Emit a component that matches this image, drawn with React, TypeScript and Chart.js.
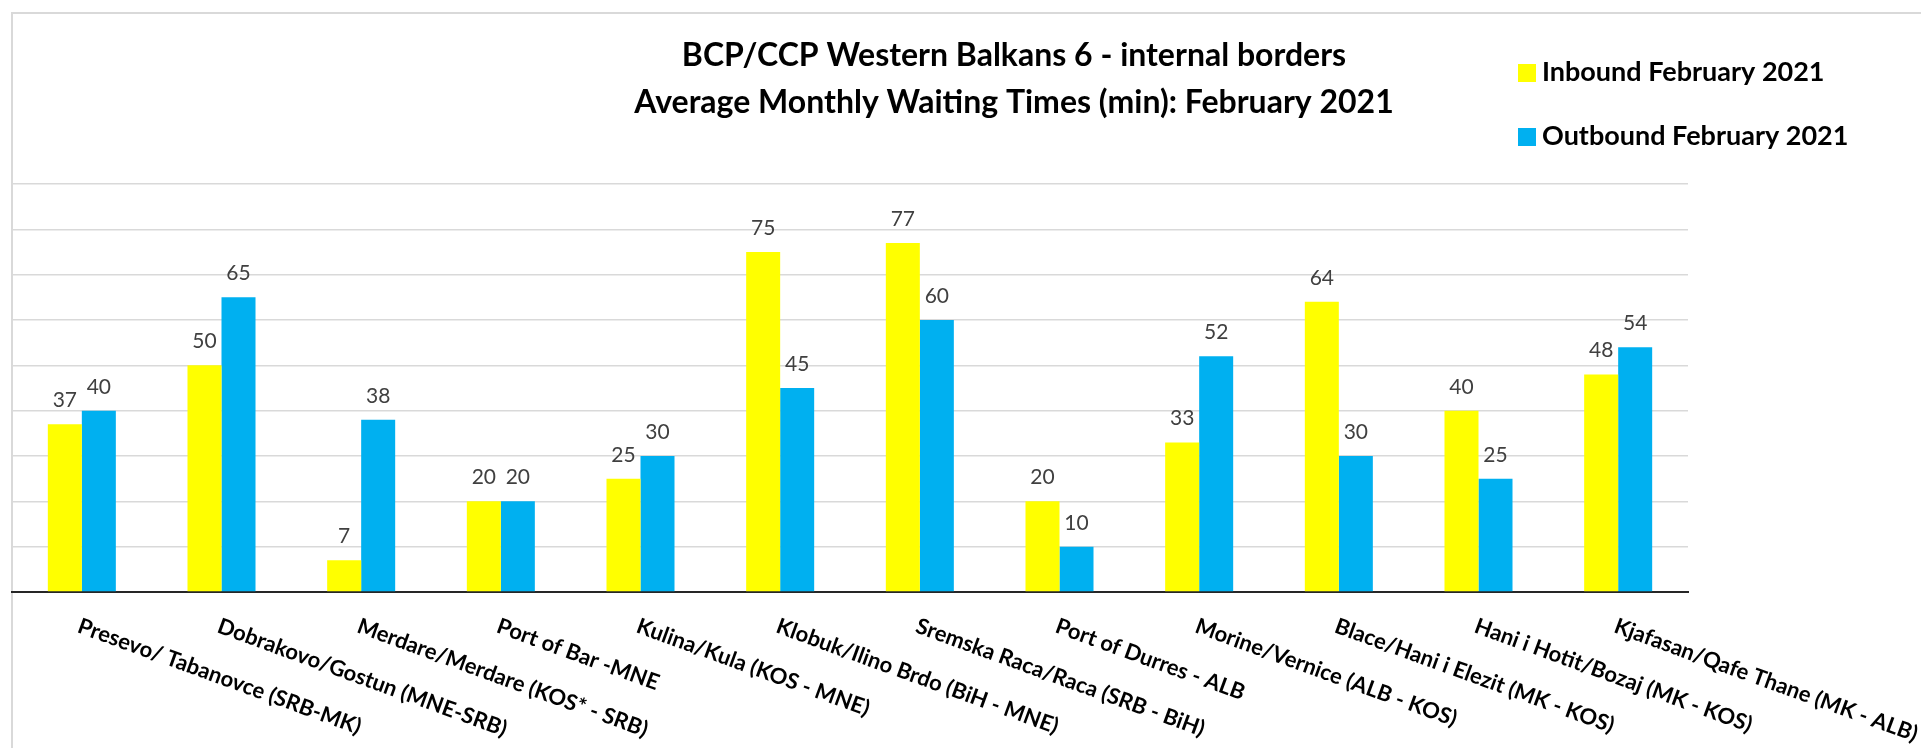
import React, { useEffect, useRef } from "react";
import { Chart, registerables } from "chart.js";

Chart.register(...registerables);

const categories: string[] = [
  "Presevo/ Tabanovce (SRB-MK)",
  "Dobrakovo/Gostun (MNE-SRB)",
  "Merdare/Merdare (KOS* - SRB)",
  "Port of Bar -MNE",
  "Kulina/Kula (KOS - MNE)",
  "Klobuk/Ilino Brdo (BiH - MNE)",
  "Sremska Raca/Raca (SRB - BiH)",
  "Port of Durres - ALB",
  "Morine/Vernice (ALB - KOS)",
  "Blace/Hani i Elezit (MK - KOS)",
  "Hani i Hotit/Bozaj (MK - KOS)",
  "Kjafasan/Qafe Thane (MK - ALB)",
];

const inbound: number[] = [37, 50, 7, 20, 25, 75, 77, 20, 33, 64, 40, 48];
const outbound: number[] = [40, 65, 38, 20, 30, 45, 60, 10, 52, 30, 25, 54];

const seriesNames: string[] = ["Inbound February 2021", "Outbound February 2021"];
const titleLines: string[] = [
  "BCP/CCP Western Balkans 6 - internal borders",
  "Average Monthly Waiting Times (min): February 2021",
];

const Y_MAX = 90;
const Y_STEP = 10;

const FONT = "Lato, 'Open Sans', sans-serif";

const framePlugin = {
  id: "frame",
  beforeDraw(chart: any) {
    const { ctx, chartArea, width, height } = chart;
    ctx.save();
    ctx.fillStyle = "#ffffff";
    ctx.fillRect(0, 0, width, height);
    ctx.strokeStyle = "#D9D9D9";
    ctx.lineWidth = 2;
    ctx.beginPath();
    ctx.moveTo(chartArea.left, height);
    ctx.lineTo(chartArea.left, 13);
    ctx.lineTo(width, 13);
    ctx.stroke();
    ctx.restore();
  },
};

const titlePlugin = {
  id: "customTitle",
  afterDraw(chart: any) {
    const { ctx } = chart;
    ctx.save();
    ctx.fillStyle = "#000000";
    ctx.font = `bold 32px ${FONT}`;
    ctx.textAlign = "center";
    ctx.textBaseline = "alphabetic";
    const cx = 1014;
    const baselines = [66, 113];
    titleLines.forEach((t, i) => ctx.fillText(t, cx, baselines[i]));
    ctx.restore();
  },
};

const legendPlugin = {
  id: "customLegend",
  afterDraw(chart: any) {
    const { ctx } = chart;
    ctx.save();
    ctx.font = `bold 27px ${FONT}`;
    ctx.textAlign = "left";
    ctx.textBaseline = "alphabetic";
    const boxX = 1518;
    const rowTop = [64, 128];
    chart.data.datasets.forEach((ds: any, i: number) => {
      ctx.fillStyle = ds.backgroundColor;
      ctx.fillRect(boxX, rowTop[i], 18, 18);
      ctx.fillStyle = "#000000";
      ctx.fillText(ds.label, boxX + 24, rowTop[i] + 17);
    });
    ctx.restore();
  },
};

const xLabelPlugin = {
  id: "xLabels",
  afterDraw(chart: any) {
    const { ctx } = chart;
    const xs = chart.scales.x;
    ctx.save();
    ctx.fillStyle = "#000000";
    ctx.font = `bold 22px ${FONT}`;
    ctx.textAlign = "left";
    ctx.textBaseline = "alphabetic";
    const labels = chart.data.labels as string[];
    labels.forEach((lab, i) => {
      const px = xs.getPixelForValue(i);
      ctx.save();
      ctx.translate(px, xs.bottom + 25);
      ctx.rotate((20 * Math.PI) / 180);
      ctx.fillText(lab, 0, 16);
      ctx.restore();
    });
    ctx.restore();
  },
};

const valueLabelPlugin = {
  id: "valueLabels",
  afterDatasetsDraw(chart: any) {
    const { ctx } = chart;
    ctx.save();
    ctx.fillStyle = "#404040";
    ctx.font = `21px ${FONT}`;
    ctx.textAlign = "center";
    ctx.textBaseline = "alphabetic";
    chart.data.datasets.forEach((ds: any, di: number) => {
      const meta = chart.getDatasetMeta(di);
      meta.data.forEach((bar: any, i: number) => {
        ctx.fillText(String(ds.data[i]), bar.x, bar.y - 17);
      });
    });
    ctx.restore();
  },
};

export default function App() {
  const canvasRef = useRef<HTMLCanvasElement | null>(null);

  useEffect(() => {
    if (!canvasRef.current) return;
    const chart = new Chart(canvasRef.current, {
      type: "bar",
      data: {
        labels: categories,
        datasets: [
          {
            label: seriesNames[0],
            data: inbound,
            backgroundColor: "#FFFF00",
            borderWidth: 0,
          },
          {
            label: seriesNames[1],
            data: outbound,
            backgroundColor: "#00B0F0",
            borderWidth: 0,
          },
        ],
      },
      options: {
        animation: false,
        responsive: false,
        devicePixelRatio: 1,
        layout: { padding: { left: 12, right: 233, top: 184, bottom: 156 } },
        datasets: {
          bar: { categoryPercentage: 0.487, barPercentage: 1.0 },
        },
        plugins: {
          legend: { display: false },
          title: { display: false },
          tooltip: { enabled: false },
        },
        scales: {
          x: {
            z: 1,
            ticks: { display: false },
            grid: { display: false, drawTicks: false },
            border: { display: true, color: "#262626", width: 2 },
          },
          y: {
            min: 0,
            max: Y_MAX,
            ticks: { display: false, stepSize: Y_STEP },
            grid: { color: "#D9D9D9", lineWidth: 1.5, drawTicks: false },
            border: { display: false },
          },
        },
      },
      plugins: [framePlugin, titlePlugin, legendPlugin, xLabelPlugin, valueLabelPlugin],
    });
    return () => chart.destroy();
  }, []);

  return (
    <div style={{ position: "absolute", left: 0, top: 0, width: 1921, height: 748, overflow: "hidden" }}>
      <canvas ref={canvasRef} width={1921} height={748} style={{ display: "block" }} />
    </div>
  );
}
